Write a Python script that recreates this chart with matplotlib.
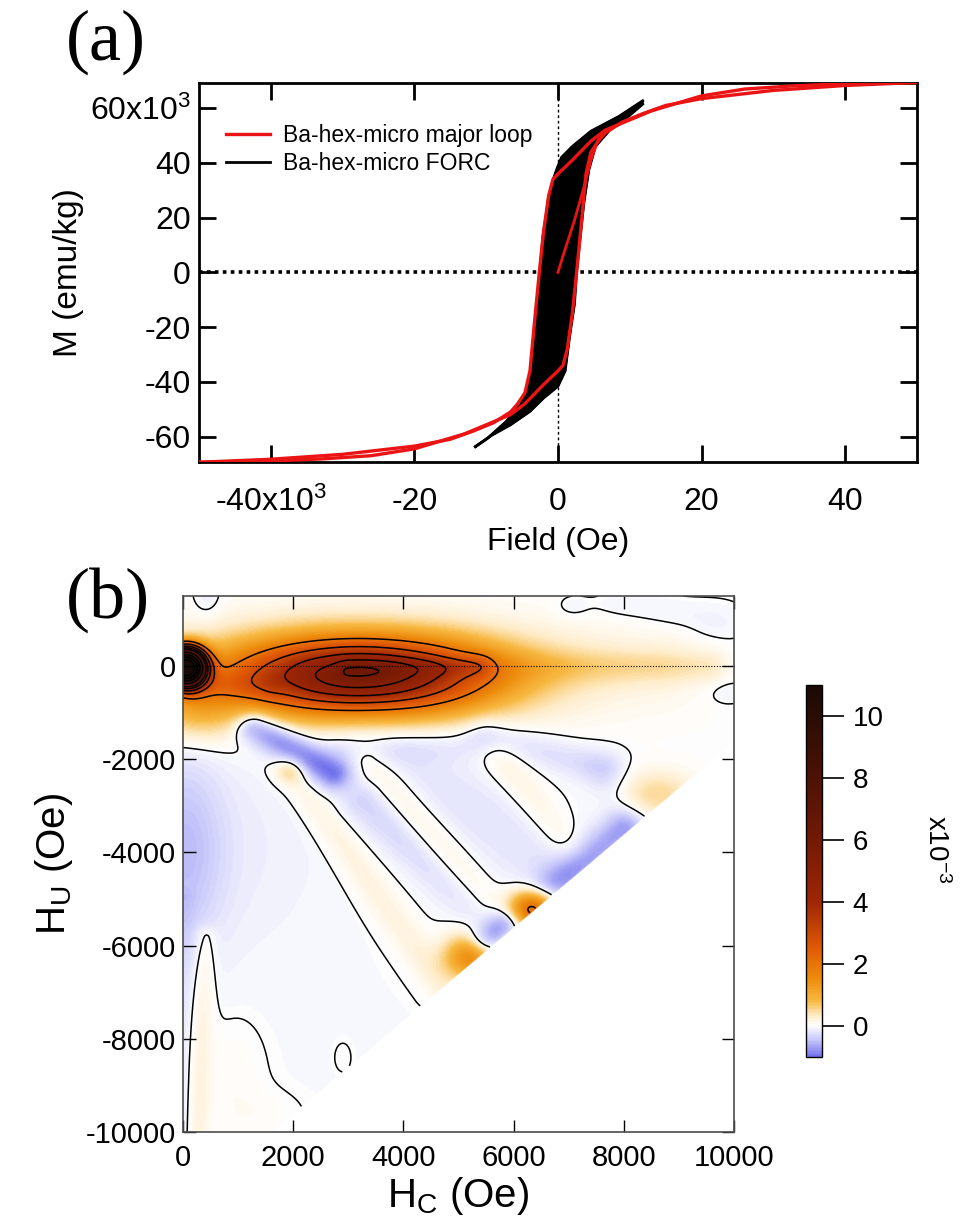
import numpy as np
import matplotlib
matplotlib.use('Agg')
import matplotlib.pyplot as plt
from matplotlib.colors import LinearSegmentedColormap, Normalize

plt.rcParams['font.family'] = 'Liberation Sans'
plt.rcParams['mathtext.fontset'] = 'custom'
plt.rcParams['mathtext.rm'] = 'Liberation Sans'
plt.rcParams['mathtext.it'] = 'Liberation Sans:italic'
plt.rcParams['axes.unicode_minus'] = False

# ---------------- (a) hysteresis loop (field in kOe, M in 10^3 emu/kg)
# descending branch of the major loop; the ascending branch is its mirror
loop_h = [50, 39, 33, 26, 20, 13, 6.6, 4.6, 2.0, 0.0, -0.7, -1.3, -2.0, -2.6,
          -3.3, -3.9, -4.6, -5.6, -6.6, -9.0, -11.8, -15, -20, -30, -40, -50]
loop_m = [69.4, 68.8, 68.2, 67.0, 64.5, 59.0, 52.0, 48.0, 41.0, 36.0, 34.0, 28.0,
          15.0, 0.0, -19.0, -36.0, -44.0, -48.0, -51.0, -55.0, -58.0, -61.0,
          -63.5, -66.5, -68.3, -69.4]
# initial magnetisation curve
virgin_h = [0.0, 0.7, 2.3, 3.6, 4.6, 5.6, 6.5]
virgin_m = [0.0, 6.0, 19.0, 31.0, 41.0, 48.5, 51.0]
# outer edges of the FORC bundle
forc_top_h = [-11.5, -9.8, -7.2, -5.2, -4.3, -3.6, -3.1, -2.75, -2.5, -2.1, -1.6,
              -1.3, -0.66, 0.0, 0.5, 2.0, 4.6, 8.5, 11.8]
forc_top_m = [-63.7, -60.6, -54.5, -48.3, -43.4, -33.6, -23.8, -11.5, 0.7, 13.0,
              21.6, 27.7, 34.0, 38.8, 42.0, 46.0, 51.6, 57.0, 62.7]
forc_bot_h = [-11.5, -9.2, -6.6, -3.9, -2.0, 0.0, 1.0, 1.6, 2.3, 2.6, 3.1, 3.6,
              4.3, 5.2, 7.2, 9.8, 11.8]
forc_bot_m = [-63.7, -59.5, -55.7, -50.8, -45.9, -41.6, -36.0, -23.8, -11.5, 0.7,
              13.0, 25.3, 37.5, 46.0, 52.0, 57.0, 61.5]

field_ticks = [-40, -20, 0, 20, 40]
field_labels = ['-40x10$^3$', '-20', '0', '20', '40']
m_ticks = [-60, -40, -20, 0, 20, 40, 60]
m_labels = ['-60', '-40', '-20', '0', '20', '40', '60x10$^3$']

# ---------------- (b) FORC distribution (Oe, values in 1e-3)
# round peaks: centre Hc, centre Hu, spread Hc, spread Hu, height
peak_hc = [50, 3200, 2800, 200, 6350, 5200, 8600,
           0, 800, 7050, 8000, 8900, 9700, 9850, 430,
           8500, 2500, 1400, 900, 2900, 1950]
peak_hu = [-30, -200, -150, -800, -5200, -6250, -2750,
           -4000, -3800, 1250, 1300, 1100, 900, -550, 1400,
           0, -8500, -9600, -8800, -8400, -2250]
peak_shc = [230, 1500, 2500, 550, 280, 330, 500,
            500, 1300, 220, 500, 500, 350, 250, 180,
            2500, 3200, 500, 400, 110, 180]
peak_shu = [260, 520, 900, 500, 280, 330, 350,
            1500, 1700, 180, 200, 230, 280, 180, 300,
            1500, 2200, 350, 900, 230, 180]
peak_amp = [16.0, 5.2, 0.5, 0.8, 2.4, 1.5, 0.5,
            -0.42, -0.12, -0.09, -0.09, -0.09, -0.09, -0.1, -0.15,
            0.03, -0.02, 0.06, 0.08, 0.05, 0.45]

# elongated ridges: start (Hc, Hu), end (Hc, Hu), half width, height
ridge_hc0 = [3000, 5400, 5000, 300, 1300, 3300, 1900, 3350, 3300,
             2900, 5500, 7600, 5700, 6500, 5500, 400, 0]
ridge_hu0 = [-60, 0, -100, -420, -1300, -2900, -2150, -2050, -1500,
             -1850, -1450, -2200, -1850, -4900, -5900, -5800, -5000]
ridge_hc1 = [5400, 9500, 8500, 1500, 2700, 5600, 4700, 5900, 7000,
             5500, 7600, 8000, 7000, 8000, 5850, 250, 0]
ridge_hu1 = [0, 0, 0, -420, -2300, -5500, -6900, -5700, -4500,
             -1600, -2200, -3300, -3900, -3500, -5550, -10000, -10000]
ridge_w = [150, 250, 600, 220, 240, 300, 240, 280, 650,
           280, 280, 280, 260, 260, 220, 150, 150]
ridge_amp = [0.6, 0.3, 0.15, 0.4, -0.9, -0.3, 0.22, 0.3, -0.2,
             -0.18, -0.25, -0.15, 0.22, -0.6, -0.8, 0.22, -0.12]

contour_levels = [0, 2, 3, 4, 5, 6, 8, 10, 12, 14]
cbar_ticks = [0, 2, 4, 6, 8, 10]

# colour table: value (1e-3) -> colour
cmap_vals = [-1.0, -0.5, 0.0, 0.3, 0.8, 1.5, 2.5, 4.0, 6.0, 8.0, 11.0]
cmap_cols = [(0.45, 0.45, 0.93), (0.76, 0.76, 0.98), (1.0, 1.0, 1.0),
             (1.0, 0.93, 0.80), (0.97, 0.72, 0.25), (0.93, 0.55, 0.05),
             (0.88, 0.35, 0.02), (0.62, 0.15, 0.02), (0.45, 0.10, 0.02),
             (0.30, 0.07, 0.02), (0.10, 0.04, 0.02)]
vmin, vmax = -1.0, 11.0

# ---------------- build the FORC grid
hc = np.linspace(0, 10000, 401)
hu = np.linspace(-10000, 1500, 461)
HC, HU = np.meshgrid(hc, hu)
rho = np.zeros_like(HC)
for x0, y0, sx, sy, a in zip(peak_hc, peak_hu, peak_shc, peak_shu, peak_amp):
    rho += a * np.exp(-0.5 * (((HC - x0) / sx) ** 2 + ((HU - y0) / sy) ** 2))
for x0, y0, x1, y1, w, a in zip(ridge_hc0, ridge_hu0, ridge_hc1, ridge_hu1,
                                ridge_w, ridge_amp):
    dx, dy = x1 - x0, y1 - y0
    t = np.clip(((HC - x0) * dx + (HU - y0) * dy) / (dx * dx + dy * dy), 0, 1)
    d2 = (HC - x0 - t * dx) ** 2 + (HU - y0 - t * dy) ** 2
    rho += a * np.exp(-0.5 * d2 / w ** 2)
# outside the measured FORC window
rho = np.ma.masked_where(HU < HC - 11600, rho)

nodes = [(v - vmin) / (vmax - vmin) for v in cmap_vals]
cmap = LinearSegmentedColormap.from_list('forc', list(zip(nodes, cmap_cols)))
cmap.set_bad('white')
norm = Normalize(vmin=vmin, vmax=vmax)

fig = plt.figure(figsize=(9.63, 12.3), dpi=100)

# ---------------- panel (a)
ax1 = fig.add_axes([0.2066, 0.6244, 0.7456, 0.3081])
ax1.axhline(0, color='k', ls=(0, (1, 1.2)), lw=2.6, zorder=1)
ax1.axvline(0, color='k', ls=(0, (2, 2)), lw=1.0, zorder=1)
poly_h = np.r_[forc_top_h, forc_bot_h[::-1]]
poly_m = np.r_[forc_top_m, forc_bot_m[::-1]]
ax1.fill(poly_h, poly_m, color='k', lw=1.5, zorder=2)
ax1.plot(forc_top_h, forc_top_m, color='k', lw=2, zorder=2,
         label='Ba-hex-micro FORC')
ax1.plot(forc_bot_h, forc_bot_m, color='k', lw=2, zorder=2)
red = (0.92, 0.08, 0.08)
ax1.plot(loop_h, loop_m, color=red, lw=2.4, zorder=3,
         label='Ba-hex-micro major loop')
ax1.plot(-np.array(loop_h), -np.array(loop_m), color=red, lw=2.4, zorder=3)
ax1.plot(virgin_h, virgin_m, color=red, lw=2.0, zorder=3)
ax1.set_xlim(-50, 50)
ax1.set_ylim(-69.3, 69.2)
ax1.set_xticks(field_ticks)
ax1.set_xticklabels(field_labels)
ax1.set_yticks(m_ticks)
ax1.set_yticklabels(m_labels)
ax1.tick_params(direction='in', length=12, width=2, labelsize=23,
                top=True, right=True)
ax1.tick_params(axis='x', pad=18)
ax1.tick_params(axis='y', pad=6)
for s in ax1.spines.values():
    s.set_linewidth(2)
ax1.set_xlabel('Field (Oe)', fontsize=23, labelpad=6)
ax1.set_ylabel('M (emu/kg)', fontsize=24, labelpad=4)
h, l = ax1.get_legend_handles_labels()
ax1.legend(h[::-1], l[::-1], loc='upper left', bbox_to_anchor=(0.025, 0.915),
           frameon=False, fontsize=16.5, handlelength=1.9, handletextpad=0.6,
           labelspacing=0.2, borderaxespad=0)
fig.text(0.068, 0.966, '(a)', family='Liberation Serif', fontsize=52,
         va='center')

# ---------------- panel (b)
ax2 = fig.add_axes([0.19, 0.0797, 0.5722, 0.4357])
ax2.imshow(rho, extent=[0, 10000, -10000, 1500], origin='lower', cmap=cmap,
           norm=norm, aspect='auto', interpolation='bilinear')
ax2.contour(hc, hu, rho, levels=contour_levels, colors='k', linewidths=1.1)
ax2.axhline(0, color='k', ls=(0, (1, 1.5)), lw=0.8)
ax2.set_xlim(0, 10000)
ax2.set_ylim(-10000, 1500)
ax2.set_xticks(np.arange(0, 10001, 2000))
ax2.set_yticks(np.arange(-10000, 1, 2000))
ax2.tick_params(direction='in', length=9, width=1, labelsize=21,
                top=True, right=True, pad=5)
ax2.tick_params(axis='x', pad=9)
for s in ax2.spines.values():
    s.set_linewidth(1.2)
    s.set_color('0.3')
ax2.set_xlabel('H$_\\mathrm{C}$ (Oe)', fontsize=29, labelpad=2)
ax2.set_ylabel('H$_\\mathrm{U}$ (Oe)', fontsize=29, labelpad=8)
fig.text(0.068, 0.512, '(b)', family='Liberation Serif', fontsize=52,
         va='center')

cax = fig.add_axes([0.837, 0.1407, 0.0166, 0.3024])
cb = fig.colorbar(plt.cm.ScalarMappable(norm=norm, cmap=cmap), cax=cax,
                  ticks=cbar_ticks)
cb.outline.set_linewidth(1.0)
cax.tick_params(direction='out', length=16, width=1.2, labelsize=20, pad=6)
fig.text(0.972, 0.31, 'x10$^{-3}$', rotation=270, fontsize=20,
         ha='center', va='center')

fig.savefig('out.png', dpi=100)
